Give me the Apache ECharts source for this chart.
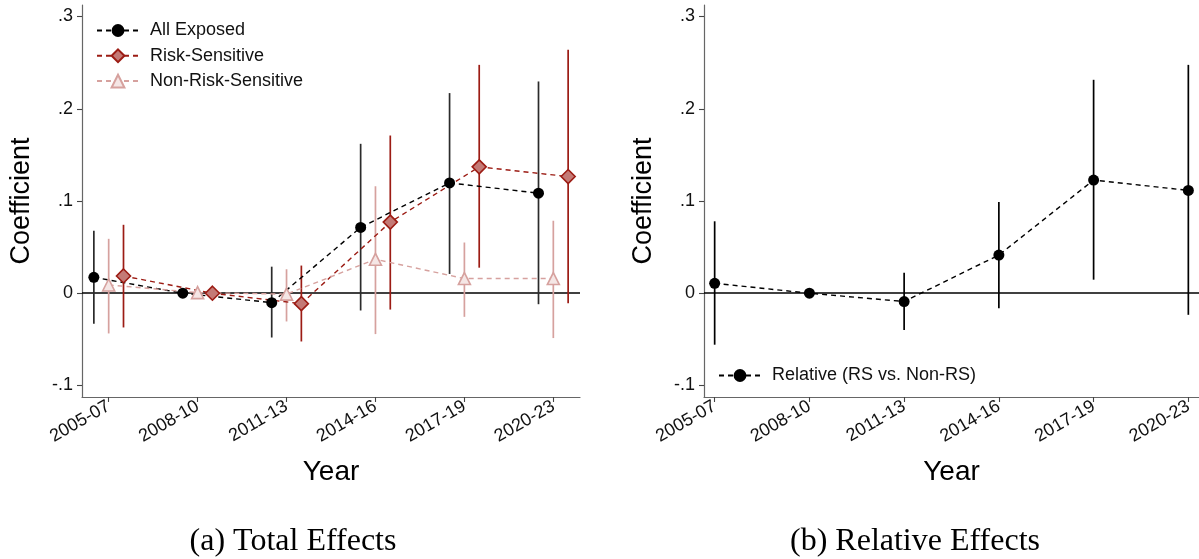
<!DOCTYPE html>
<html>
<head>
<meta charset="utf-8">
<script src="https://cdn.jsdelivr.net/npm/echarts@6/dist/echarts.min.js"></script>
<style>
html,body{margin:0;padding:0;background:#fff;}
#chart{width:1199px;height:559px;}
</style>
</head>
<body>
<div id="chart"></div>
<script>
// ---- data ----
const categories = ['2005-07','2008-10','2011-13','2014-16','2017-19','2020-23'];
const yTickValues = [-0.1, 0, 0.1, 0.2, 0.3];
const yTickLabels = ['-.1', '0', '.1', '.2', '.3'];

const allExposed   = [0.0173, 0, -0.0102, 0.0714, 0.1196, 0.1085];
const allExposedLo = [-0.0330, null, -0.0480, -0.0187, 0.0209, -0.0119];
const allExposedHi = [0.0677, null, 0.0288, 0.1620, 0.2170, 0.2296];

const riskSens   = [0.0187, 0, -0.0113, 0.0771, 0.1370, 0.1265];
const riskSensLo = [-0.0371, null, -0.0523, -0.0177, 0.0277, -0.0108];
const riskSensHi = [0.0742, null, 0.0300, 0.1710, 0.2476, 0.2640];

const nonRisk   = [0.0090, 0.0007, -0.0010, 0.0368, 0.0159, 0.0159];
const nonRiskLo = [-0.0436, null, -0.0306, -0.0443, -0.0256, -0.0486];
const nonRiskHi = [0.0590, null, 0.0260, 0.1160, 0.0550, 0.0786];

const relative   = [0.0108, 0, -0.0090, 0.0414, 0.1227, 0.1115];
const relativeLo = [-0.0558, null, -0.0399, -0.0162, 0.0147, -0.0234];
const relativeHi = [0.0780, null, 0.0223, 0.0989, 0.2314, 0.2476];

// ---- styling / helpers ----
const FONT = "'Liberation Sans', Arial, Helvetica, sans-serif";
const SERIF = "'Liberation Serif', 'Times New Roman', serif";
const OFF = 1/6;
const C_BLACK = '#000000', C_BLACK_CI = '#2b2b2b';
const C_RS = '#9c1c14', C_RS_FILL = '#c47a76';
const C_NRS = '#d6a19e', C_NRS_FILL = '#f5e6e5';

function pts(vals, off) { return vals.map((v, i) => [i + 1 + off, v]); }
function ci(lo, hi, off) {
  const out = [];
  lo.forEach((l, i) => { if (l !== null && hi[i] !== null) out.push([i + 1 + off, l, hi[i]]); });
  return out;
}
function ciSeries(name, data, color, gi) {
  return {
    type: 'custom', name: name, xAxisIndex: gi, yAxisIndex: gi, z: 2,
    data: data, encode: { x: 0, y: [1, 2] }, silent: true,
    renderItem: function (params, api) {
      const x = api.value(0);
      const p1 = api.coord([x, api.value(1)]);
      const p2 = api.coord([x, api.value(2)]);
      return { type: 'line', shape: { x1: p1[0], y1: p1[1], x2: p2[0], y2: p2[1] },
               style: { stroke: color, lineWidth: 1.7 } };
    }
  };
}
function lineSeries(name, data, color, symbol, size, fill, border, gi, withZero) {
  const s = {
    type: 'line', name: name, xAxisIndex: gi, yAxisIndex: gi, z: 5,
    data: data, symbol: symbol, symbolSize: size, showAllSymbol: true,
    lineStyle: { color: color, width: 1.4, type: [5, 4] },
    itemStyle: { color: fill, borderColor: border, borderWidth: border === fill ? 0 : 1.6 },
    emphasis: { disabled: true }
  };
  if (withZero) {
    s.markLine = { silent: true, symbol: ['none', 'none'], label: { show: false },
      lineStyle: { color: '#000', width: 1.5, type: 'solid' }, data: [{ yAxis: 0 }], z: 1 };
  }
  return s;
}
function xAxis(gi, min, max) {
  return {
    type: 'value', gridIndex: gi, min: min, max: max,
    axisLine: { onZero: false, lineStyle: { color: '#666', width: 1.2 } },
    axisTick: { customValues: [1,2,3,4,5,6], length: 5, lineStyle: { color: '#444', width: 1.1 } },
    axisLabel: { customValues: [1,2,3,4,5,6], rotate: 30, margin: 8, color: '#111',
      fontFamily: FONT, fontSize: 18,
      formatter: v => categories[Math.round(v) - 1] },
    splitLine: { show: false },
    name: 'Year', nameLocation: 'middle', nameGap: 61,
    nameTextStyle: { fontFamily: FONT, fontSize: 28, color: '#000' }
  };
}
function yAxis(gi) {
  return {
    type: 'value', gridIndex: gi, min: -0.1125, max: 0.3125,
    axisLine: { show: true, onZero: false, lineStyle: { color: '#666', width: 1.2 } },
    axisTick: { show: true, customValues: yTickValues, length: 5, lineStyle: { color: '#444', width: 1.1 } },
    axisLabel: { customValues: yTickValues, margin: 9, color: '#111', fontFamily: FONT, fontSize: 18,
      formatter: v => { const i = yTickValues.findIndex(t => Math.abs(t - v) < 1e-9); return i >= 0 ? yTickLabels[i] : ''; } },
    splitLine: { show: false },
    name: 'Coefficient', nameLocation: 'middle', nameGap: 47, nameRotate: 90,
    nameTextStyle: { fontFamily: FONT, fontSize: 27, color: '#000' }
  };
}

const chart = echarts.init(document.getElementById('chart'), null, { renderer: 'canvas' });
const option = {
  animation: false,
  backgroundColor: '#fff',
  grid: [
    { left: 82, top: 5, width: 498, height: 392, containLabel: false },
    { left: 704, top: 5, width: 497, height: 392, containLabel: false }
  ],
  xAxis: [xAxis(0, 0.7, 6.3), xAxis(1, 0.8875, 6.1125)],
  yAxis: [yAxis(0), yAxis(1)],
  legend: [
    { left: 91, top: 15, orient: 'vertical', itemWidth: 42, itemHeight: 16, itemGap: 4.3,
      data: ['All Exposed', 'Risk-Sensitive', 'Non-Risk-Sensitive'], selectedMode: false,
      textStyle: { fontFamily: FONT, fontSize: 18, color: '#111', lineHeight: 21, padding: [0,0,0,6] } },
    { left: 713, top: 360, orient: 'vertical', itemWidth: 42, itemHeight: 16,
      data: ['Relative (RS vs. Non-RS)'], selectedMode: false,
      textStyle: { fontFamily: FONT, fontSize: 18, color: '#111', lineHeight: 21, padding: [0,0,0,6] } }
  ],
  graphic: [
    { type: 'text', x: 293, y: 542, style: { text: '(a) Total Effects', font: '32px ' + SERIF, fill: '#000', textAlign: 'center', textVerticalAlign: 'middle' } },
    { type: 'text', x: 915, y: 542, style: { text: '(b) Relative Effects', font: '32px ' + SERIF, fill: '#000', textAlign: 'center', textVerticalAlign: 'middle' } }
  ],
  series: [
    ciSeries('ci-all', ci(allExposedLo, allExposedHi, -OFF), C_BLACK_CI, 0),
    ciSeries('ci-nrs', ci(nonRiskLo, nonRiskHi, 0), C_NRS, 0),
    ciSeries('ci-rs', ci(riskSensLo, riskSensHi, OFF), C_RS, 0),
    lineSeries('All Exposed', pts(allExposed, -OFF), C_BLACK, 'circle', 11, C_BLACK, C_BLACK, 0, true),
    lineSeries('Risk-Sensitive', pts(riskSens, OFF), C_RS, 'diamond', 14, C_RS_FILL, C_RS, 0, false),
    lineSeries('Non-Risk-Sensitive', pts(nonRisk, 0), C_NRS, 'triangle', 12, C_NRS_FILL, C_NRS, 0, false),
    ciSeries('ci-rel', ci(relativeLo, relativeHi, 0), C_BLACK, 1),
    lineSeries('Relative (RS vs. Non-RS)', pts(relative, 0), C_BLACK, 'circle', 11, C_BLACK, C_BLACK, 1, true)
  ]
};
chart.setOption(option);
</script>
</body>
</html>
